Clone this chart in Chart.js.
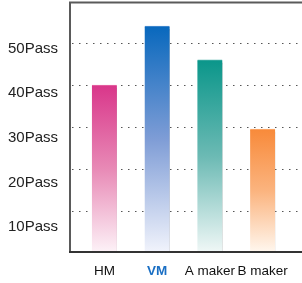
<!DOCTYPE html>
<html lang="en">
<head>
  <meta charset="UTF-8">
  <title>Pass Count</title>
  <script src="https://cdn.jsdelivr.net/npm/chart.js"></script>
  <style>
    body { margin: 0; background: #fff; }
    canvas { display: block; }
  </style>
</head>
<body>
  <canvas id="passChart" width="302" height="283"></canvas>
  <script>
    const categories = ['HM', 'VM', 'A maker', 'B maker'];
    const passCounts = [40, 54, 46, 29.5];
    const yTickValues = [10, 20, 30, 40, 50];

    // top / middle / bottom colours of each bar gradient
    const barTop = ['#d9368a', '#0868bd', '#0a968a', '#f88a3a'];
    const barMid = ['#e88ab6', '#7f9dd6', '#6cbab4', '#fbb47f'];
    const barBottom = ['#fdf3f8', '#f2f4fc', '#f1f8f7', '#fff8f0'];
    const barEdge = ['#e66aa6', '#4d8fd2', '#4fb3aa', '#fbab70'];

    const FONT = "'Liberation Sans', Arial, sans-serif";

    function barGradient(ctx) {
      const area = ctx.chart.chartArea;
      const i = ctx.dataIndex;
      if (!area) return barTop[i];
      const g = ctx.chart.ctx.createLinearGradient(0, ctx.chart.scales.y.getPixelForValue(passCounts[i]), 0, area.bottom);
      g.addColorStop(0, barTop[i]);
      g.addColorStop(0.5, barMid[i]);
      g.addColorStop(1, barBottom[i]);
      return g;
    }

    const framePlugin = {
      id: 'frame',
      beforeDatasetsDraw(chart) {
        const { ctx, scales: { y } } = chart;
        const left = chart.chartArea.left - 6;
        ctx.save();
        ctx.strokeStyle = '#555';
        ctx.lineWidth = 1;
        ctx.setLineDash([1.5, 5.5]);
        yTickValues.forEach(v => {
          const py = Math.round(y.getPixelForValue(v)) + 0.5;
          ctx.beginPath();
          ctx.moveTo(left, py);
          ctx.lineTo(chart.width, py);
          ctx.stroke();
        });
        ctx.restore();

        // bar shadows
        ctx.save();
        ctx.shadowColor = '#a9a9a9';
        ctx.shadowOffsetX = 3;
        ctx.shadowOffsetY = 3;
        ctx.shadowBlur = 0;
      },
      afterDatasetsDraw(chart) {
        const { ctx, chartArea } = chart;
        ctx.restore();
        const left = chartArea.left - 8;
        const top = chartArea.top + 1.5;
        const bottom = chartArea.bottom - 1;
        ctx.save();
        ctx.lineWidth = 2;
        ctx.strokeStyle = '#5a5a5a';
        ctx.beginPath();
        ctx.moveTo(chart.width, top);
        ctx.lineTo(left, top);
        ctx.lineTo(left, bottom);
        ctx.stroke();
        ctx.strokeStyle = '#333';
        ctx.beginPath();
        ctx.moveTo(left - 1, bottom);
        ctx.lineTo(chart.width, bottom);
        ctx.stroke();
        ctx.restore();
      }
    };

    function noPad(s) {
      s.paddingTop = 0;
      s.paddingBottom = 0;
      s.paddingLeft = 0;
      s.paddingRight = 0;
    }

    new Chart(document.getElementById('passChart'), {
      type: 'bar',
      data: {
        labels: categories,
        datasets: [{
          data: passCounts,
          backgroundColor: barGradient,
          borderColor: barEdge,
          borderWidth: { top: 1, left: 0, right: 0, bottom: 0 },
          barThickness: 25
        }]
      },
      options: {
        responsive: false,
        animation: false,
        devicePixelRatio: 1,
        layout: { padding: { top: 1, right: 13, left: 0, bottom: 0 } },
        plugins: {
          legend: { display: false },
          tooltip: { enabled: false }
        },
        scales: {
          x: {
            grid: { display: false, drawTicks: false },
            border: { display: false },
            ticks: {
              padding: 10,
              maxRotation: 0,
              autoSkip: false,
              color: ctx => ctx.index === 1 ? '#1a6fc4' : '#111',
              font: ctx => ({ family: FONT, size: 13.5, weight: ctx.index === 1 ? 'bold' : 'normal' })
            },
            afterFit: s => { s.height = 30; noPad(s); }
          },
          y: {
            display: false,
            min: 0,
            max: 60
          },
          yLabel: {
            position: 'left',
            min: 4.173,
            max: 60.644,
            grid: { display: false, drawTicks: false },
            border: { display: false },
            ticks: {
              padding: 20,
              color: '#222',
              font: { family: FONT, size: 15 },
              callback: v => v + 'Pass'
            },
            afterBuildTicks: s => { s.ticks = yTickValues.map(v => ({ value: v })); },
            afterFit: s => { s.width = 78; noPad(s); }
          }
        }
      },
      plugins: [framePlugin]
    });
  </script>
</body>
</html>
